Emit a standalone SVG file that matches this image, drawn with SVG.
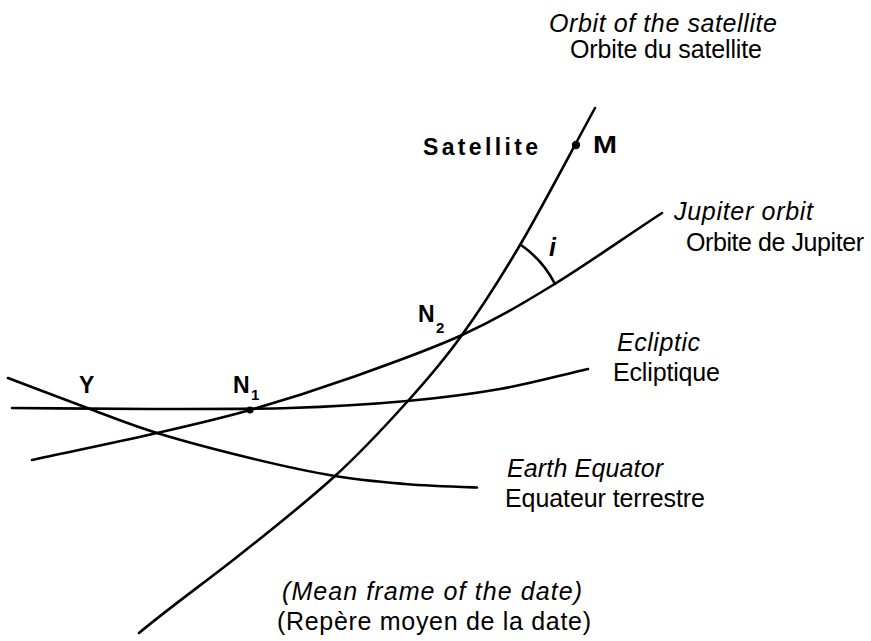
<svg xmlns="http://www.w3.org/2000/svg" width="871" height="641" viewBox="0 0 871 641">
<style>
.ln{fill:none;stroke:#000;stroke-width:2.6;stroke-linecap:round;stroke-linejoin:round}
.t{font-family:"Liberation Sans",Arial,sans-serif;font-size:25px;fill:#000}
.it{font-style:italic}
.b{font-family:"Liberation Sans",Arial,sans-serif;font-weight:bold;font-size:23px;fill:#000}
.sub{font-size:15px}
</style>
<rect width="871" height="641" fill="#fff"/>
<g id="connectors">
<path id="satellite-orbit" class="ln" d="M595,108 C570,153.7 542.2,207.2 520,245 C497.8,282.8 480.8,308.8 462,335 C443.2,361.2 428.2,378.5 407,402 C385.8,425.5 363.3,450.2 335,476 C306.7,501.8 270,531 237,557 C204,583 170.3,607 139,633"/>
<path id="jupiter-orbit" class="ln" d="M32,460 C73.7,451 120.7,441.3 157,433 C193.3,424.7 217.8,419.2 250,410 C282.2,400.8 314.7,390.5 350,378 C385.3,365.5 428.2,350.5 462,335 C495.8,319.5 519.5,305.5 553,285 C586.5,264.5 626.3,236.3 662,213"/>
<path id="ecliptic" class="ln" d="M12,408 C58,408.3 103.7,409 150,409 C196.3,409 247.2,409.3 290,408 C332.8,406.7 372,404.2 407,401 C442,397.8 469.8,394.3 500,389 C530.2,383.7 558.7,375.7 588,369"/>
<path id="earth-equator" class="ln" d="M8,378 C35.3,388.3 65.2,399.8 90,409 C114.8,418.2 130.3,424.8 157,433 C183.7,441.2 220.3,450.8 250,458 C279.7,465.2 309.2,471.7 335,476 C360.8,480.3 382,482 405,484 C428,486 452,486.7 477,487.5"/>
<path id="angle-i" class="ln" d="M521,245 A106,106 0 0 1 555,284"/>
</g>
<g id="node-M">
<circle cx="576" cy="145" r="4.2" fill="#000"/>
<text class="b" x="593" y="153" textLength="24" lengthAdjust="spacingAndGlyphs">M</text>
<text class="b" x="423" y="155" font-size="21" textLength="115" lengthAdjust="spacing">Satellite</text>
</g>
<g id="node-N1">
<circle cx="250" cy="410" r="3.5" fill="#000"/>
<text class="b" x="233" y="393">N</text>
<text class="b sub" x="251" y="400">1</text>
</g>
<g id="node-N2">
<text class="b" x="418" y="322">N</text>
<text class="b sub" x="436" y="333">2</text>
</g>
<g id="node-aries">
<text class="b" x="79" y="393">Υ</text>
</g>
<g id="label-i">
<text class="t it" x="549" y="256" font-weight="bold" font-size="22">i</text>
</g>
<g id="label-orbit">
<text class="t it" x="549" y="32" textLength="228" lengthAdjust="spacing">Orbit of the satellite</text>
<text class="t" x="570" y="58" textLength="192" lengthAdjust="spacing">Orbite du satellite</text>
</g>
<g id="label-jupiter">
<text class="t it" x="674" y="220" textLength="139" lengthAdjust="spacing">Jupiter orbit</text>
<text class="t" x="686" y="251" textLength="178" lengthAdjust="spacing">Orbite de Jupiter</text>
</g>
<g id="label-ecliptic">
<text class="t it" x="617" y="351" textLength="83" lengthAdjust="spacing">Ecliptic</text>
<text class="t" x="613" y="381" textLength="107" lengthAdjust="spacing">Ecliptique</text>
</g>
<g id="label-equator">
<text class="t it" x="507" y="477" textLength="156" lengthAdjust="spacing">Earth  Equator</text>
<text class="t" x="505" y="507" textLength="200" lengthAdjust="spacing">Equateur terrestre</text>
</g>
<g id="label-frame">
<text class="t it" x="282" y="600" textLength="300" lengthAdjust="spacing">(Mean  frame  of  the  date)</text>
<text class="t" x="277" y="630" textLength="314" lengthAdjust="spacing">(Repère moyen  de  la  date)</text>
</g>
</svg>
